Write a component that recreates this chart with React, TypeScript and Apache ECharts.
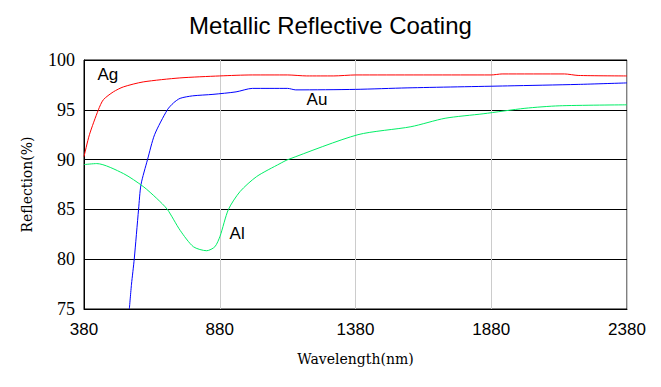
import React, { useEffect, useRef } from "react";
import * as echarts from "echarts";

const xTickLabels = [380, 880, 1380, 1880, 2380];
const yTickLabels = [75, 80, 85, 90, 95, 100];

const agWavelength = [380, 400, 433, 451, 488, 525, 598, 733, 880, 1000, 1130, 1200, 1300, 1380, 1880, 1920, 2150, 2200, 2380];
const agReflection = [90.3, 92.5, 95.0, 96.0, 96.8, 97.3, 97.8, 98.2, 98.4, 98.5, 98.5, 98.4, 98.4, 98.5, 98.5, 98.6, 98.6, 98.45, 98.4];

const auWavelength = [547, 555, 565, 581, 590, 614, 640, 687, 710, 734, 780, 855, 940, 1000, 1130, 1160, 1380, 1570, 1940, 2200, 2380];
const auReflection = [75.0, 77.5, 80.0, 85.0, 87.5, 90.0, 92.5, 95.0, 95.7, 96.15, 96.4, 96.55, 96.8, 97.15, 97.15, 97.0, 97.05, 97.2, 97.4, 97.55, 97.7];

const alWavelength = [380, 427, 525, 598, 648, 687, 734, 783, 832, 862, 881, 912, 955, 1016, 1102, 1131, 1389, 1584, 1710, 1850, 2004, 2130, 2380];
const alReflection = [89.5, 89.6, 88.6, 87.3, 86.1, 85.0, 82.9, 81.25, 80.85, 81.25, 82.3, 85.0, 86.8, 88.3, 89.6, 90.0, 92.5, 93.3, 94.15, 94.6, 95.15, 95.4, 95.5];

const labels = [
  { name: "Ag", w: 468, v: 98.5 },
  { name: "Au", w: 1238, v: 96.0 },
  { name: "Al", w: 944, v: 82.6 },
];

const X0 = xTickLabels[0];

function pairs(ws: number[], vs: number[]) {
  return ws.map((w, i) => [w - X0, vs[i]]);
}

export default function App() {
  const ref = useRef<HTMLDivElement>(null);
  useEffect(() => {
    if (!ref.current) return;
    const chart = echarts.init(ref.current, null, { renderer: "svg" });
    const lineSeries = (name: string, ws: number[], vs: number[], color: string, lbl?: any) => ({
      type: "line",
      name,
      data: pairs(ws, vs),
      showSymbol: false,
      symbol: "none",
      smooth: 0.25,
      lineStyle: { color, width: 1 },
      itemStyle: { color },
      z: 3,
      markPoint: lbl
        ? {
            symbol: "circle",
            symbolSize: 0,
            silent: true,
            data: [
              {
                coord: [lbl.w - X0, lbl.v],
                label: {
                  show: true,
                  position: "inside",
                  formatter: lbl.name,
                  color: "#000",
                  fontFamily: "Liberation Sans, Arial, sans-serif",
                  fontSize: 17,
                },
              },
            ],
          }
        : undefined,
    });
    chart.setOption({
      animation: false,
      backgroundColor: "#fff",
      title: {
        text: "Metallic Reflective Coating",
        left: "center",
        top: 8,
        textStyle: {
          fontFamily: "Liberation Sans, Arial, sans-serif",
          fontSize: 24,
          fontWeight: "normal",
          color: "#000",
        },
      },
      grid: {
        left: 84,
        right: 34,
        top: 60,
        bottom: 78,
        show: true,
        borderColor: "#000",
        borderWidth: 1,
        backgroundColor: "transparent",
      },
      xAxis: {
        type: "value",
        min: 0,
        max: xTickLabels[xTickLabels.length - 1] - X0,
        interval: 500,
        name: "Wavelength(nm)",
        nameLocation: "middle",
        nameGap: 43,
        nameTextStyle: { fontFamily: "DejaVu Serif, serif", fontSize: 14, color: "#000" },
        axisLine: { show: true, lineStyle: { color: "#000" } },
        axisTick: { show: false },
        axisLabel: {
          formatter: (v: number) => String(v + X0),
          fontFamily: "Liberation Sans, Arial, sans-serif",
          fontSize: 17,
          color: "#000",
          margin: 12,
        },
        splitLine: { show: true, lineStyle: { color: "#cccccc", width: 1 } },
      },
      yAxis: {
        type: "value",
        min: yTickLabels[0],
        max: yTickLabels[yTickLabels.length - 1],
        interval: 5,
        name: "Reflection(%)",
        nameLocation: "middle",
        nameGap: 50,
        nameTextStyle: { fontFamily: "DejaVu Serif, serif", fontSize: 14, color: "#000" },
        axisLine: { show: true, lineStyle: { color: "#000" } },
        axisTick: { show: false },
        axisLabel: {
          fontFamily: "Liberation Serif, Times New Roman, serif",
          fontSize: 18,
          color: "#000",
          margin: 9,
        },
        splitLine: { show: true, lineStyle: { color: "#000", width: 1 } },
      },
      series: [
        lineSeries("Ag", agWavelength, agReflection, "#ff0000", labels[0]),
        lineSeries("Au", auWavelength, auReflection, "#0000ff", labels[1]),
        lineSeries("Al", alWavelength, alReflection, "#00ee66", labels[2]),
      ],
    });
    return () => chart.dispose();
  }, []);
  return <div ref={ref} style={{ width: 661, height: 387, position: "absolute", left: 0, top: 0 }} />;
}
